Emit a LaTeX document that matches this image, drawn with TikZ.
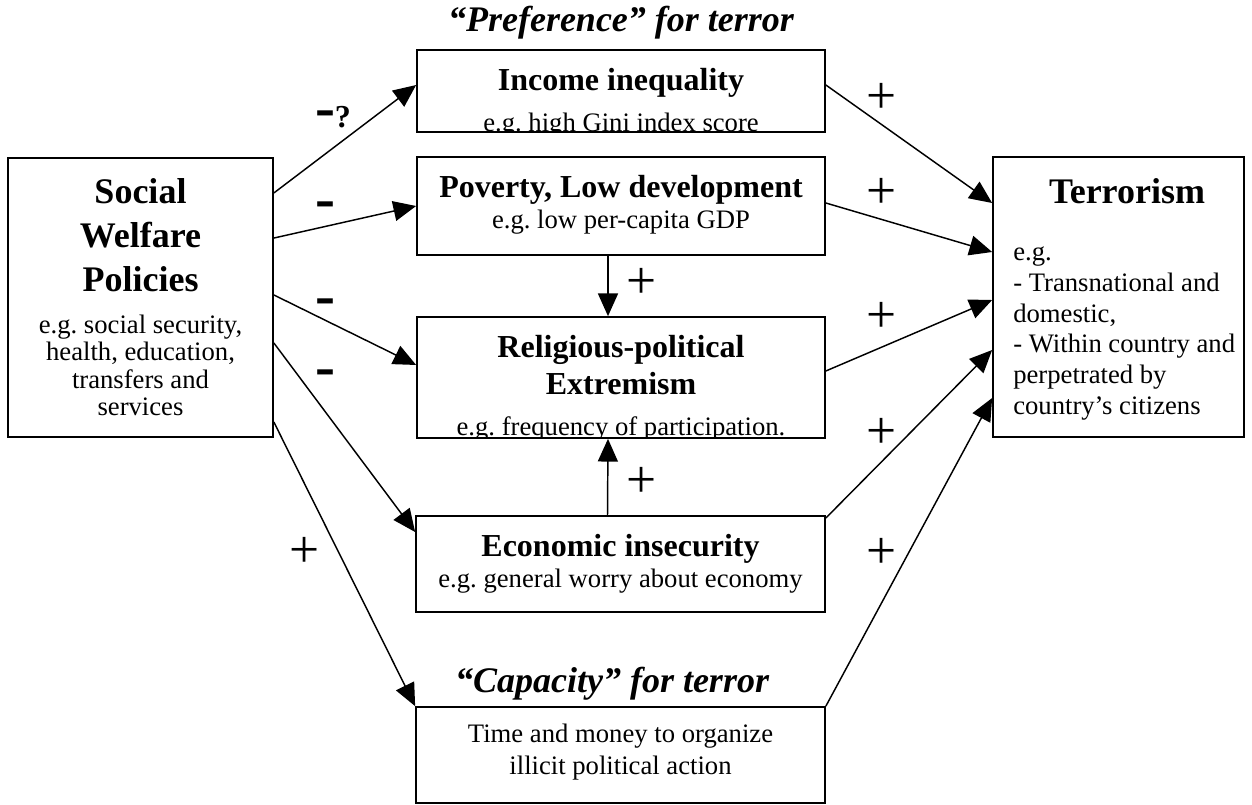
\documentclass[tikz,border=0pt]{standalone}
\usepackage{fontspec}
\setmainfont{Liberation Serif}
\frenchspacing
\usetikzlibrary{arrows.meta, positioning}
\tikzstyle{block} = [rectangle, draw=black, line width=1.3pt, inner sep=0pt]
\tikzstyle{arrow} = [line width=1.1pt,-{Triangle[length=17pt,width=15pt]}]
\tikzstyle{txt} = [inner sep=0pt, align=center, font=\fontsize{20}{22.5}\selectfont]
\tikzstyle{plus} = [inner sep=0pt, font=\fontsize{40}{40}\selectfont]
\tikzstyle{minus} = [inner sep=0pt, anchor=base, font=\bfseries\fontsize{45}{45}\selectfont]
\tikzstyle{head} = [inner sep=0pt, anchor=base, font=\bfseries\itshape\fontsize{27}{32}\selectfont]
\newcommand{\hd}[1]{{\bfseries\fontsize{24}{28}\selectfont #1}}
\newcommand{\bighd}[1]{{\bfseries\fontsize{27}{32}\selectfont #1}}

\begin{document}
\begin{tikzpicture}[x=0.75pt,y=-0.75pt]
\useasboundingbox (0,0) rectangle (1252,804);

% boxes
\node (welfare) [block, minimum width=198.75pt, minimum height=209.25pt] at (140.5,297.5) {};
\node (income) [block, minimum width=306pt, minimum height=61.5pt] at (621,91) {};
\node (poverty) [block, minimum width=306pt, minimum height=73.5pt] at (621,206) {};
\node (religion) [block, minimum width=306pt, minimum height=90.75pt] at (621,377.5) {};
\node (insecurity) [block, minimum width=306.75pt, minimum height=72pt] at (620.5,564) {};
\node (capacity) [block, minimum width=306.75pt, minimum height=72pt] at (620.5,755) {};
\node (terrorism) [block, minimum width=188.25pt, minimum height=210pt] at (1118.5,297) {};

% headings over the middle column
\node (preftitle) [head] at (621,31) {“Preference” for terror};
\node (captitle) [head] at (612,692) {“Capacity” for terror};

% box texts
\node (welfaretxt) [txt, font=\fontsize{20}{20.5}\selectfont, below=15.75pt of welfare.north]
  {\bighd{Social}\\[12.5pt]\bighd{Welfare}\\[12.5pt]\bighd{Policies}\\[11pt]e.g. social security,\\health, education,\\transfers and\\services};
\begin{scope}
  \clip (income.south west) rectangle (income.north east);
  \node (incometxt) [txt, below=14pt of income.north] {\hd{Income inequality}\\[8.5pt]e.g. high Gini index score};
\end{scope}
\node (povertytxt) [txt, below=14pt of poverty.north] {\hd{Poverty, Low development}\\[0.75pt]e.g. low per-capita GDP};
\begin{scope}
  \clip (religion.south west) rectangle (religion.north east);
  \node (religiontxt) [txt, below=14.5pt of religion.north] {\hd{Religious-political}\\[5.25pt]\hd{Extremism}\\[8pt]e.g. frequency of participation.};
\end{scope}
\node (insecuritytxt) [txt, below=14.5pt of insecurity.north] {\hd{Economic insecurity}\\[0.75pt]e.g. general worry about economy};
\node (capacitytxt) [txt, font=\fontsize{20}{24}\selectfont, below=13.5pt of capacity.north] {Time and money to organize\\illicit political action};
\node (terrortitle) [inner sep=0pt, anchor=base, font=\bfseries\fontsize{27}{32}\selectfont] at (1127,203) {Terrorism};
\node (terrortxt) [txt, font=\fontsize{20}{23}\selectfont, align=left, anchor=north west] at (1013,247)
  {e.g.\\- Transnational and\\domestic,\\- Within country and\\perpetrated by\\country’s citizens};

% effects of welfare policies
\draw [arrow] ([yshift=78.4pt]welfare.east) -- ([yshift=4.5pt]income.west);
\draw [arrow] ([yshift=44.6pt]welfare.east) -- (poverty.west);
\draw [arrow] ([yshift=1.9pt]welfare.east) -- ([yshift=9.4pt]religion.west);
\draw [arrow] ([yshift=-34.1pt]welfare.east) -- ([yshift=24pt]insecurity.west);
\draw [arrow] ([yshift=-93.4pt]welfare.east) -- (capacity.north west);
\draw [arrow] ([xshift=-9.75pt]poverty.south) -- ([xshift=-9.75pt]religion.north);
\draw [arrow] ([xshift=-9.75pt]insecurity.north) -- ([xshift=-9.75pt]religion.south);

% paths into terrorism
\draw [arrow] ([yshift=4.5pt]income.east) -- ([yshift=70.5pt]terrorism.west);
\draw [arrow] ([yshift=2.25pt]poverty.east) -- ([yshift=33.75pt]terrorism.west);
\draw [arrow] ([yshift=4.9pt]religion.east) -- ([yshift=-2.25pt]terrorism.west);
\draw [arrow] ([yshift=34.5pt]insecurity.east) -- ([yshift=-39.75pt]terrorism.west);
\draw [arrow] (capacity.north east) -- ([yshift=-75.75pt]terrorism.west);

% signs
\node (sgninc) [minus] at (333,127) {-{\fontsize{24}{24}\selectfont ?}};
\node (sgnpov) [minus] at (325,218) {-};
\node (sgnrel) [minus] at (325,315) {-};
\node (sgnins) [minus] at (325,386) {-};
\node (sgncap) [plus] at (305,552) {+};
\node (sgnpovrel) [plus] at (642,283) {+};
\node (sgninsrel) [plus] at (642,482) {+};
\node (sgnincter) [plus] at (882,98) {+};
\node (sgnpovter) [plus] at (882,193) {+};
\node (sgnrelter) [plus] at (882,317) {+};
\node (sgninster) [plus] at (882,433) {+};
\node (sgncapter) [plus] at (882,553) {+};
\end{tikzpicture}
\end{document}
